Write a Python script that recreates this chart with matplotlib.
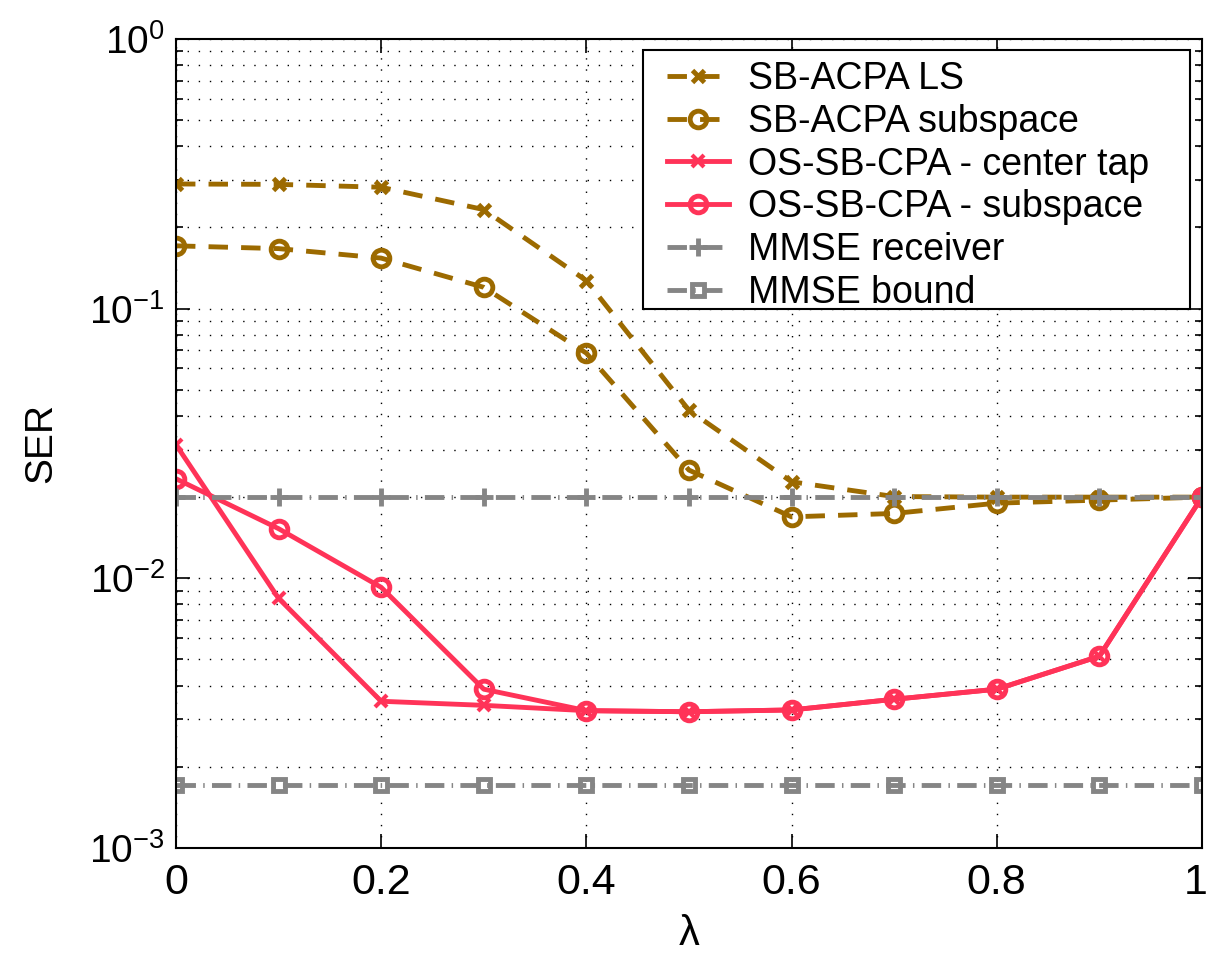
import numpy as np
import matplotlib
matplotlib.use('Agg')
import matplotlib.pyplot as plt
import matplotlib.transforms as mtransforms
from matplotlib.patches import Rectangle
from matplotlib.ticker import LogLocator, FuncFormatter, MultipleLocator, NullFormatter

plt.rcParams['font.family'] = ['Liberation Sans', 'DejaVu Sans']
plt.rcParams['mathtext.fontset'] = 'custom'
plt.rcParams['mathtext.rm'] = 'Liberation Sans'
plt.rcParams['mathtext.it'] = 'Liberation Sans'
plt.rcParams['mathtext.default'] = 'regular'

# lambda values
lam = [0.0, 0.1, 0.2, 0.3, 0.4, 0.5, 0.6, 0.7, 0.8, 0.9, 1.0]

# SER curves
sb_acpa_ls = [0.290, 0.289, 0.282, 0.233, 0.127, 0.0420, 0.0228, 0.0201, 0.0200, 0.0200, 0.0200]
sb_acpa_sub = [0.171, 0.167, 0.154, 0.120, 0.0684, 0.0252, 0.0169, 0.0174, 0.0190, 0.0195, 0.0200]
os_center = [0.0313, 0.00843, 0.00350, 0.00338, 0.00323, 0.00320, 0.00325, 0.00356, 0.00388, 0.00514, 0.0200]
os_sub = [0.0234, 0.01528, 0.00926, 0.00388, 0.00323, 0.00320, 0.00325, 0.00356, 0.00388, 0.00514, 0.0200]
mmse_rx = [0.0200] * 11
mmse_bound = [0.00171] * 11

labels = ['SB-ACPA LS', 'SB-ACPA subspace', 'OS-SB-CPA - center tap',
          'OS-SB-CPA - subspace', 'MMSE receiver', 'MMSE bound']

brown = '#9C6A00'
red = '#FF3358'
gray = '#858585'

fig = plt.figure(figsize=(12.07, 9.56), dpi=100)
ax = fig.add_axes([0.1458, 0.1130, 0.8500, 0.8462])

dash = (0, (4.0, 2.7))
dashdot = (0, (4.0, 1.5, 0.3, 1.5))
lw = 3.5

ax.plot(lam, sb_acpa_ls, color=brown, lw=lw, ls=dash, marker='x', ms=9, mew=3.5, label=labels[0])
ax.plot(lam, sb_acpa_sub, color=brown, lw=lw, ls=dash, marker='o', ms=12, mew=3.5, mfc='none', label=labels[1])
ax.plot(lam, os_center, color=red, lw=lw, ls='-', marker='x', ms=8, mew=3, label=labels[2])
ax.plot(lam, os_sub, color=red, lw=lw, ls='-', marker='o', ms=12, mew=3.5, mfc='none', label=labels[3])
ax.plot(lam, mmse_rx, color=gray, lw=lw, ls=dashdot, marker='+', ms=13, mew=3.5, label=labels[4])
ax.plot(lam, mmse_bound, color=gray, lw=lw, ls=dashdot, marker='s', ms=9, mew=3.5, mfc='none', label=labels[5])

ax.set_yscale('log')
ax.set_xlim(0, 1)
ax.set_ylim(1e-3, 1)

ax.xaxis.set_major_locator(MultipleLocator(0.2))
ax.xaxis.set_major_formatter(FuncFormatter(lambda v, p: '%g' % round(v, 2)))
ax.yaxis.set_major_locator(LogLocator(base=10, numticks=10))
ax.yaxis.set_minor_locator(LogLocator(base=10, subs=np.arange(2, 10), numticks=20))
ax.yaxis.set_minor_formatter(NullFormatter())
ax.yaxis.set_major_formatter(FuncFormatter(lambda v, p: r'$10^{%d}$' % int(round(np.log10(v)))))

ax.tick_params(which='both', direction='in', top=True, right=True, width=1.2)
ax.tick_params(which='major', length=10)
ax.tick_params(which='minor', length=5)
ax.tick_params(axis='x', which='major', labelsize=31, pad=11)
ax.tick_params(axis='y', which='major', labelsize=28, pad=8)
for s in ax.spines.values():
    s.set_linewidth(1.5)

ax.grid(True, which='major', axis='x', color='black', ls=(0, (1, 7)), lw=1.0)
ax.grid(True, which='both', axis='y', color='black', ls=(0, (1, 7)), lw=1.0)

ax.set_xlabel('λ', fontsize=30, labelpad=8)
ax.set_ylabel('SER', fontsize=28, labelpad=22)

# legend box: wider horizontal padding than vertical, so frame is drawn separately
leg = ax.legend(loc='upper left', bbox_to_anchor=(0.4785, 0.9728), fontsize=27, frameon=False,
                numpoints=1, handlelength=1.65, handletextpad=0.5, labelspacing=0.18,
                borderpad=0.0, borderaxespad=0.0)
leg.set_zorder(6)
ax.add_patch(Rectangle((0.4552, 0.6659), 0.5331, 0.3202, transform=ax.transAxes,
                       facecolor='white', edgecolor='black', lw=1.5, zorder=5))

# pull the "1" at the right end inside the figure
fig.canvas.draw()
for tick in ax.xaxis.get_major_ticks():
    if abs(tick.get_loc() - 1.0) < 1e-9:
        lab = tick.label1
        lab.set_transform(lab.get_transform() + mtransforms.ScaledTranslation(-0.06, 0, fig.dpi_scale_trans))

fig.savefig('out.png', dpi=100)
